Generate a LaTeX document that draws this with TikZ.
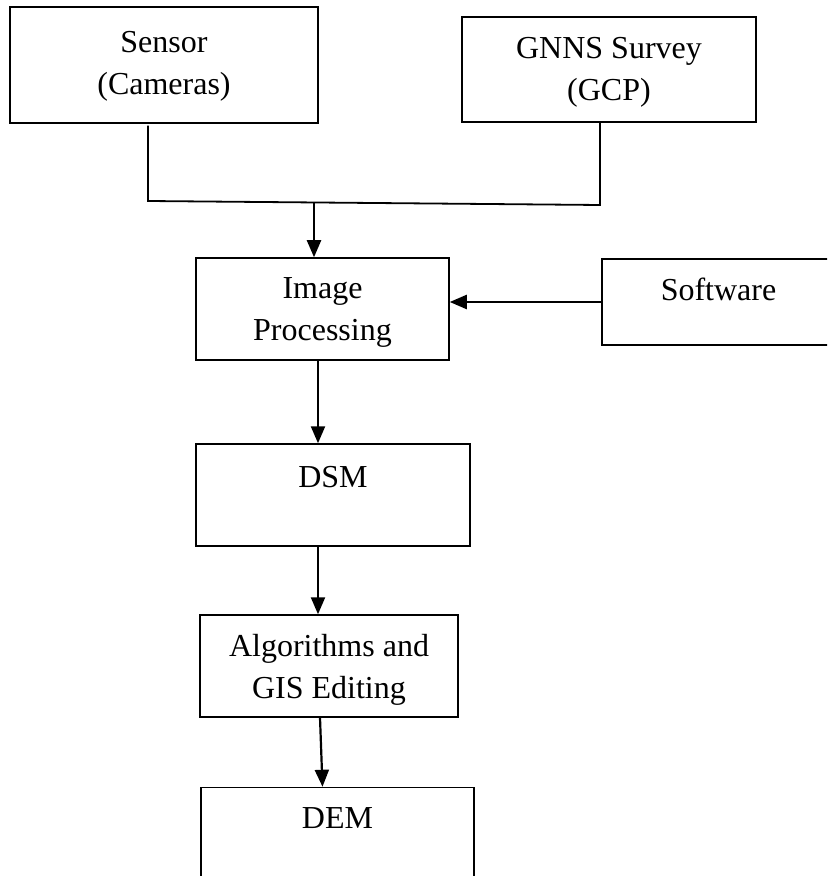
\documentclass[tikz,border=0pt]{standalone}
\usepackage{fontspec}
\setmainfont{Liberation Serif}
\usetikzlibrary{positioning,arrows.meta}

\tikzset{
  box/.style={draw, rectangle, line width=0.75pt, inner sep=0pt},
  lbl/.style={inner sep=0pt, align=center, font=\fontsize{16}{21}\selectfont},
  link/.style={line width=0.9pt},
  arr/.style={line width=1.1pt, -{Triangle[length=8.5pt,width=7pt]}}
}

\begin{document}
\begin{tikzpicture}[x=0.5pt, y=-0.5pt]
    \clip (0,0) rectangle (827,876);

    % Entradas
    \node[box, minimum width=154pt, minimum height=58pt] (sensor) at (164,65) {};
    \node[lbl, below=12.5pt of sensor.north] (sensortxt) {Sensor\\(Cameras)};
    \node[box, minimum width=147pt, minimum height=52.5pt] (gnns) at (609,69.5) {};
    \node[lbl, below=10.5pt of gnns.north] (gnnstxt) {GNNS Survey\\(GCP)};

    % Procesamiento
    \node[box, minimum width=126.5pt, minimum height=51pt] (imgproc) at (322.5,309) {};
    \node[lbl, below=10pt of imgproc.north] (imgproctxt) {Image\\Processing};
    \node[box, minimum width=116.5pt, minimum height=43pt] (software) at (718.5,302) {};
    \node[lbl, below=9.5pt of software.north] (softwaretxt) {Software};

    % Productos
    \node[box, minimum width=137pt, minimum height=51pt] (dsm) at (333,495) {};
    \node[lbl, below=11.5pt of dsm.north] (dsmtxt) {DSM};
    \node[box, minimum width=129pt, minimum height=51pt] (alg) at (329,666) {};
    \node[lbl, below=10pt of alg.north] (algtxt) {Algorithms and\\GIS Editing};
    \node[box, minimum width=136.5pt, minimum height=51pt] (dem) at (337.5,838.5) {};
    \node[lbl, below=10pt of dem.north] (demtxt) {DEM};

    % Union de entradas
    \coordinate (jl) at (148,201);
    \coordinate (jr) at (600,205);
    \coordinate (jm) at (314,203);
    \draw[link] ([yshift=-1pt]sensor.south -| jl) -- (jl) -- (jr) -- (gnns.south -| jr);

    % Flechas
    \draw[arr] (jm) -- (jm |- imgproc.north);
    \draw[arr] (software.west) -- (software.west -| imgproc.east);
    \draw[arr] ([xshift=-2.25pt]imgproc.south) -- ([xshift=-7.5pt]dsm.north);
    \draw[arr] ([xshift=-7.5pt]dsm.south) -- ([xshift=-5.5pt]alg.north);
    \draw[arr] ([xshift=-4.5pt]alg.south) -- ([xshift=-7.5pt]dem.north);
\end{tikzpicture}
\end{document}
